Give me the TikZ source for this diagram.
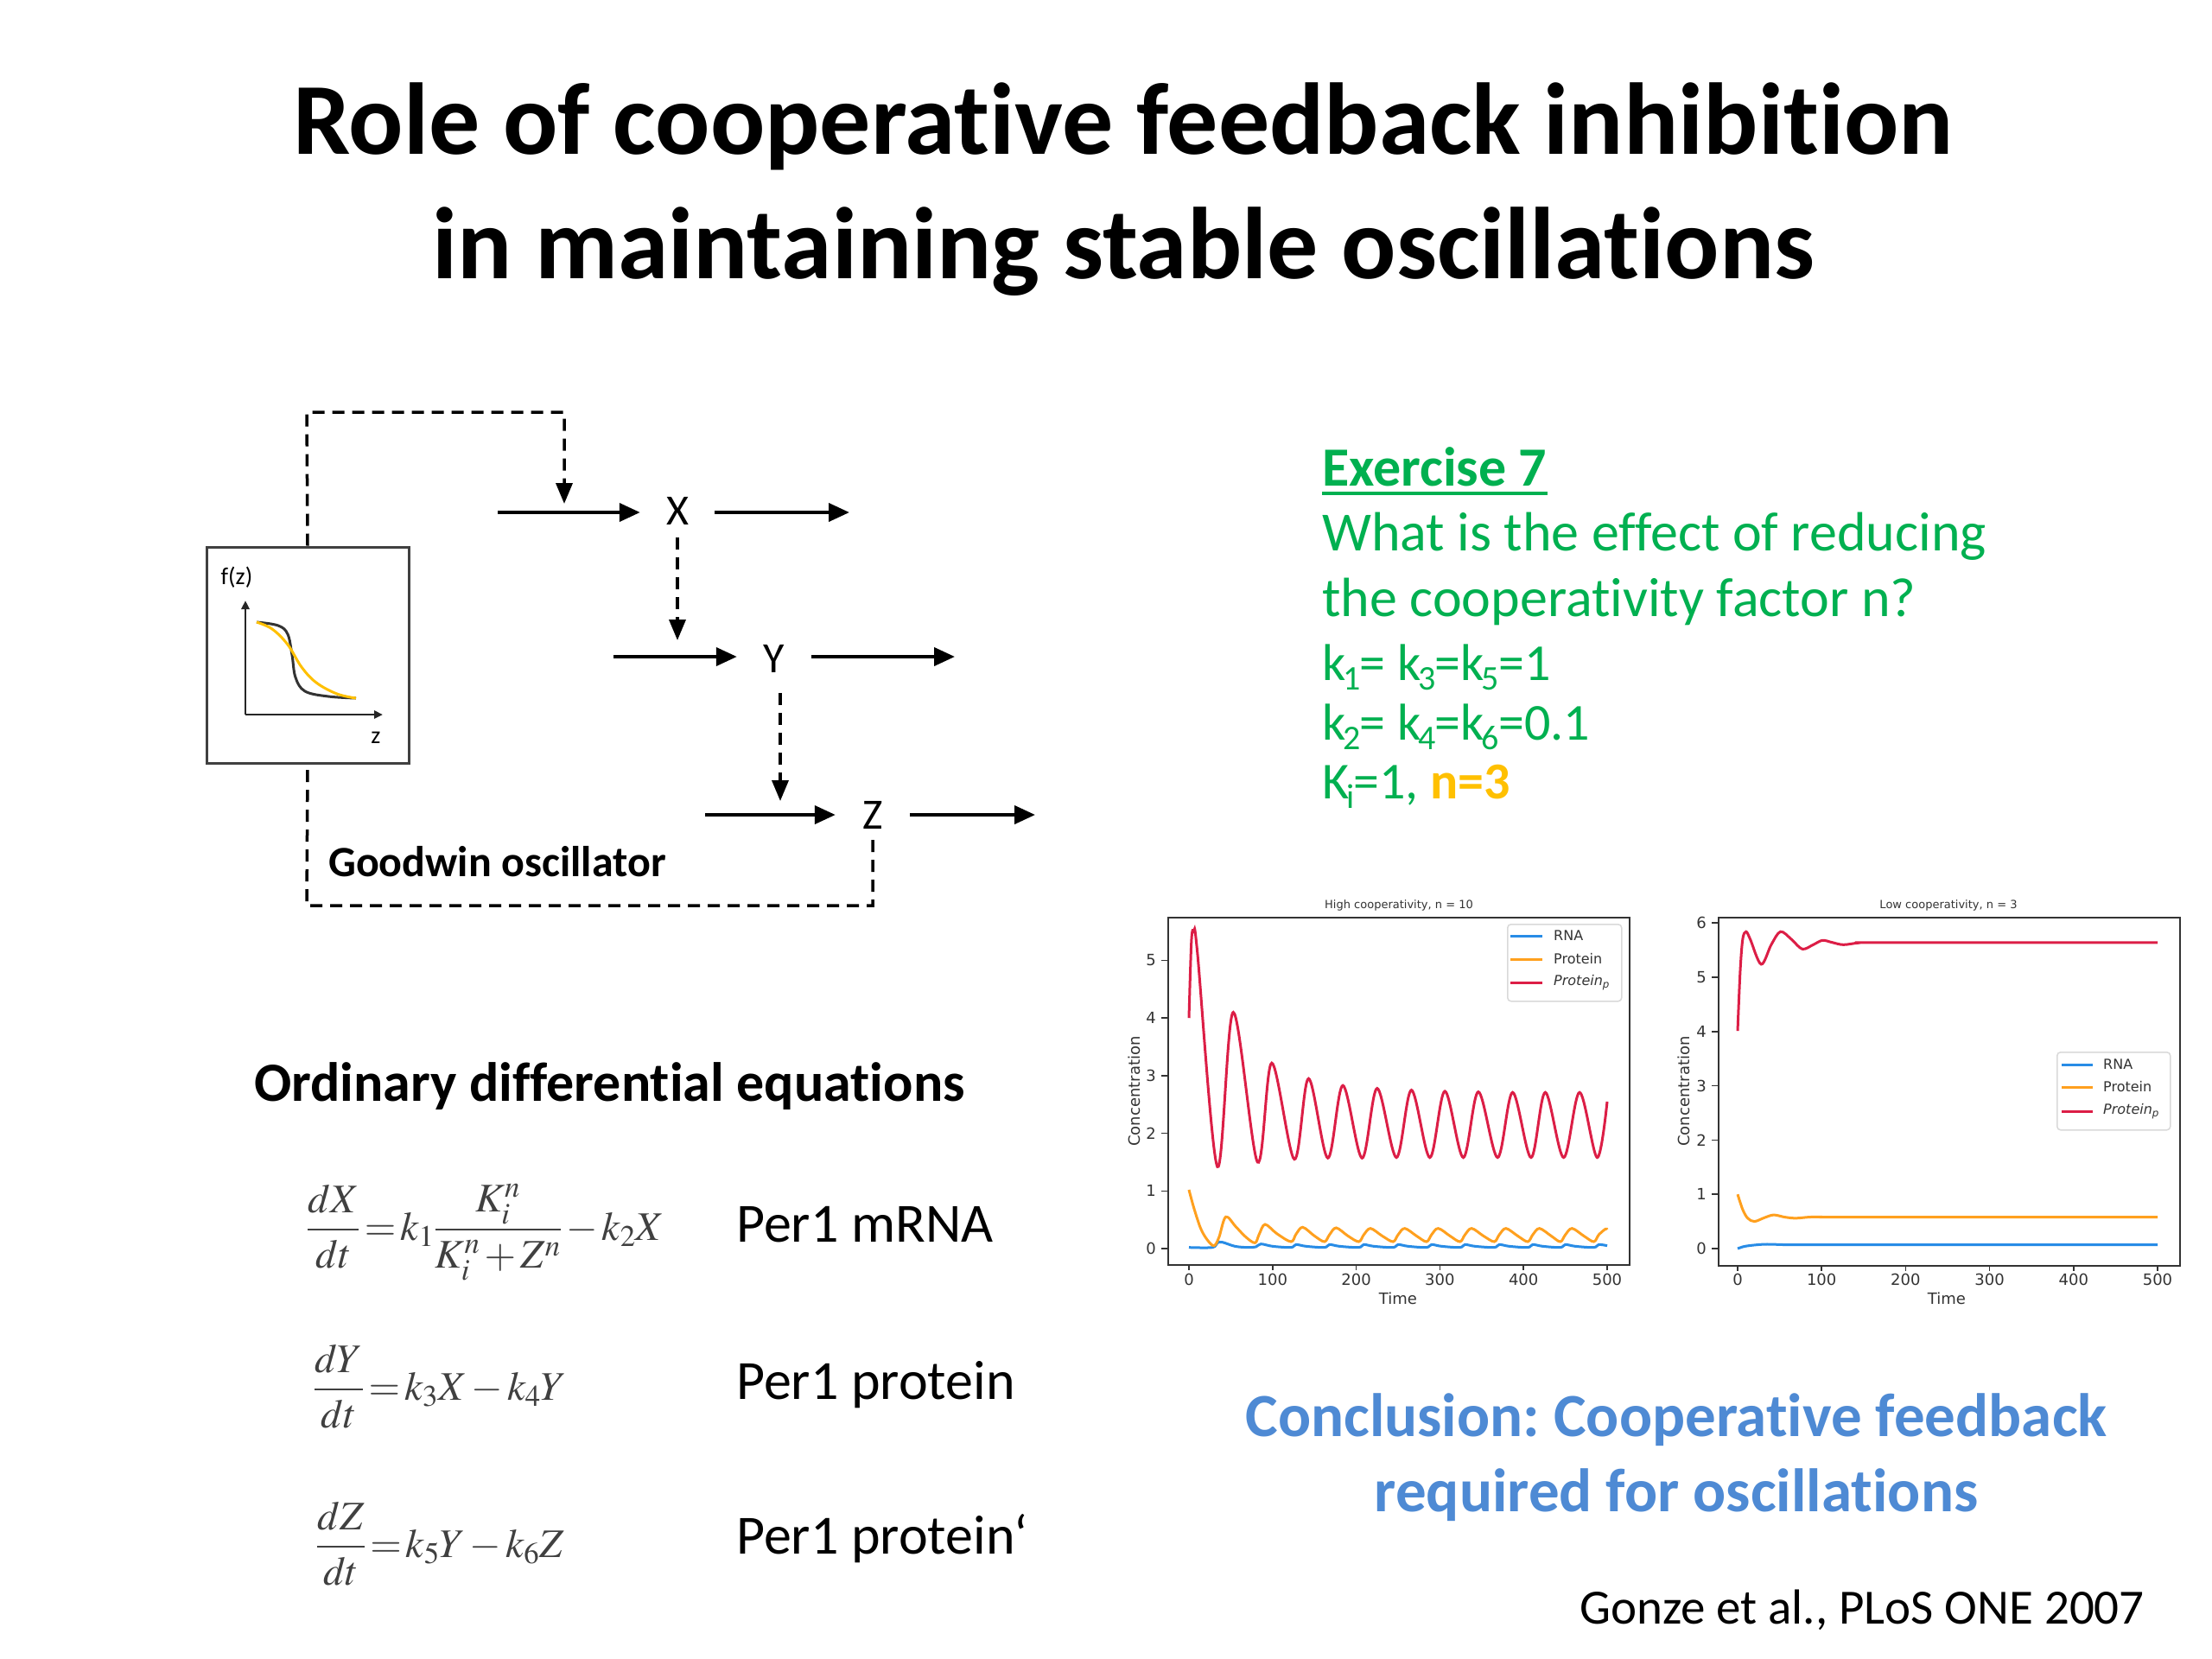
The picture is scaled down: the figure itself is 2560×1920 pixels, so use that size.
\documentclass[tikz,border=0pt]{standalone}
\usepackage{amsmath}
\usepackage{mathptmx}
\usepackage[no-math]{fontspec}
\setmainfont{Carlito}[RawFeature={-liga;-clig;-calt;-dlig}]
\newfontfamily\plotfont{DejaVu Sans}
\usetikzlibrary{arrows.meta}
\frenchspacing
\definecolor{exgreen}{RGB}{0,176,80}
\definecolor{exgold}{RGB}{255,192,0}
\definecolor{concblue}{RGB}{78,138,212}
\definecolor{rnablue}{RGB}{40,140,230}
\definecolor{protorange}{RGB}{255,160,30}
\definecolor{protred}{RGB}{220,30,70}
\newcommand\fsz[1]{\fontsize{#1}{#1}\selectfont}
\newcommand\sbs[1]{\kern-3pt\raisebox{-11pt}{\fsz{40}#1}\kern-1pt}
\begin{document}
\begin{tikzpicture}[x=1pt,y=-1pt,
  every node/.style={inner sep=0pt},
  flow/.style={line width=4pt,-{Triangle[length=24pt,width=21pt]}},
  dashflow/.style={line width=3.5pt,dash pattern=on 14pt off 9pt,-{Triangle[length=24pt,width=19pt]}},
  dashline/.style={line width=3.5pt,dash pattern=on 14pt off 9pt},
  species/.style={font=\fsz{50}, minimum width=86pt, minimum height=62pt},
  frame/.style={draw=black!80, line width=2pt},
  ticklbl/.style={font=\plotfont\fsz{18}, text=black!80},
  curve/.style={line width=3pt, smooth, tension=0.55},
  legendbox/.style={draw=black!15, fill=white, rounded corners=4pt, line width=1.5pt, anchor=north west},
  legtext/.style={font=\plotfont\fsz{16}, text=black!80, anchor=west}]
\useasboundingbox (0,0) rectangle (2560,1920);
\fill[white] (0,0) rectangle (2560,1920);

% Title
\node[font=\bfseries\fsz{118}, anchor=base] (title1) at (1300,178) {Role of cooperative feedback inhibition};
\node[font=\bfseries\fsz{118}, anchor=base] (title2) at (1300,322) {in maintaining stable oscillations};

% Goodwin diagram
\node[draw=black!75, line width=3pt, minimum width=234pt, minimum height=250pt] (fbox) at (356,758) {};
\node[font=\fsz{28}] (fzl) at (274,668) {f(z)};
\node[font=\fsz{28}] (zl) at (435,854) {z};
\coordinate (ax0) at (284,827);
\coordinate (axy) at (284,695);
\coordinate (axx) at (443,827);
\draw[line width=2.5pt, black!85, -{Triangle[length=10pt,width=9pt]}] (ax0) -- (axy);
\draw[line width=2.5pt, black!85, -{Triangle[length=10pt,width=9pt]}] (ax0) -- (axx);
\draw[line width=3pt, black!80] plot[smooth, tension=0.6] coordinates {(297,720) (322,724) (333,734) (338,758) (342,784) (353,800) (380,806) (412,808)};
\draw[line width=3pt, exgold] plot[smooth, tension=0.6] coordinates {(297,720) (315,728) (333,746) (349,772) (366,790) (390,803) (412,808)};

\node[species] (X) at (784,591) {X};
\node[species] (Y) at (896,762) {Y};
\node[species] (Z) at (1010,943) {Z};

\coordinate (xin) at (576,593);
\coordinate (xout) at (983,593);
\coordinate (yin) at (710,760);
\coordinate (yout) at (1105,760);
\coordinate (zin) at (816,943);
\coordinate (zout) at (1198,943);
\draw[flow] (xin) -- (xin -| X.west);
\draw[flow] (X.east |- xout) -- (xout);
\draw[flow] (yin) -- (yin -| Y.west);
\draw[flow] (Y.east |- yout) -- (yout);
\draw[flow] (zin) -- (zin -| Z.west);
\draw[flow] (Z.east |- zout) -- (zout);

\coordinate (fbtl) at (355,477);
\coordinate (fbtr) at (653,477);
\coordinate (xhit) at (653,583);
\coordinate (yhit) at (784,741);
\coordinate (zhit) at (903,927);
\coordinate (zbr) at (1010,1048);
\coordinate (zbl) at (355,1048);
\draw[dashflow] (fbox.north) -- (fbtl) -- (fbtr) -- (xhit);
\draw[dashflow] (784,622) -- (yhit);
\draw[dashflow] (903,802) -- (zhit);
\draw[dashline] (1010,972) -- (zbr) -- (zbl) -- (fbox.south);
\node[font=\bfseries\fsz{50}, anchor=base west] (goodwin) at (380,1014) {Goodwin oscillator};

% ODEs
\node[font=\bfseries\fsz{64}, anchor=base west] (odehead) at (294,1274) {Ordinary differential equations};
\begingroup
\thickmuskip=2mu \medmuskip=2mu
\node[font=\fsz{47}, text=black!75, anchor=base west] (eq1) at (355,1435) {$\dfrac{dX}{dt}=k_1\dfrac{K_i^n}{K_i^n+Z^n}-k_2X$};
\node[font=\fsz{47}, text=black!75, anchor=base west] (eq2) at (363,1620) {$\dfrac{dY}{dt}=k_3X-k_4Y$};
\node[font=\fsz{47}, text=black!75, anchor=base west] (eq3) at (366,1802) {$\dfrac{dZ}{dt}=k_5Y-k_6Z$};
\endgroup
\node[font=\fsz{64}, anchor=base west] (per1) at (852,1437) {Per1 mRNA};
\node[font=\fsz{64}, anchor=base west] (per2) at (852,1619) {Per1 protein};
\node[font=\fsz{64}, anchor=base west] (per3) at (852,1798) {Per1 protein‘};

% Exercise
\node[font=\bfseries\fsz{64}, text=exgreen, anchor=base west] (ex) at (1530,562) {Exercise 7};
\draw[exgreen, line width=4pt] ([yshift=-9pt]ex.base west) -- ([yshift=-9pt]ex.base east);
\node[font=\fsz{64}, text=exgreen, anchor=base west] (q1) at (1530,637) {What is the effect of reducing};
\node[font=\fsz{64}, text=exgreen, anchor=base west] (q2) at (1530,713) {the cooperativity factor n?};
\node[font=\fsz{60}, text=exgreen, anchor=base west] (k1) at (1530,787) {k\sbs{1}= k\sbs{3}=k\sbs{5}=1};
\node[font=\fsz{60}, text=exgreen, anchor=base west] (k2) at (1530,856) {k\sbs{2}= k\sbs{4}=k\sbs{6}=0.1};
\node[font=\fsz{60}, text=exgreen, anchor=base west] (k3) at (1530,924) {K\sbs{i}=1, {\bfseries\color{exgold}n=3}};

% Left plot
\node[frame, minimum width=534pt, minimum height=402pt, anchor=north west] (lax) at (1351,1061) {};
\node[font=\plotfont\fsz{13}, text=black!80] (ltitle) at (1619,1048) {High cooperativity, n = 10};
\foreach \t/\lab in {0/0,100/100,200/200,300/300,400/400,500/500}{
  \draw[black!80, line width=1.5pt] ({1376+0.968*\t},1463) -- ({1376+0.968*\t},1470);
  \node[ticklbl] at ({1376+0.968*\t},1481) {\lab};
}
\foreach \v in {0,...,5}{
  \draw[black!80, line width=1.5pt] (1351,{1445-66.7*\v}) -- (1344,{1445-66.7*\v});
  \node[ticklbl, anchor=east] at (1338,{1445-66.7*\v}) {\v};
}
\node[ticklbl] (ltime) at (1618,1503) {Time};
\node[ticklbl, rotate=90] (lconc) at (1313,1263) {Concentration};
\begin{scope}[xshift=1376pt, yshift=-1445pt, x={(0.968pt,0pt)}, y={(0pt,66.7pt)}]
\draw[curve, rnablue] plot coordinates {(0,0.02) (28,0.02) (34,0.1) (40,0.11) (55,0.04) (70,0.02) (80,0.03) (86,0.08) (100,0.04) (122,0.02) (128,0.07) (140,0.04) (162,0.02) (168,0.07) (180,0.04) (203,0.02) (209,0.07) (221,0.04) (244,0.02) (250,0.07) (262,0.04) (284,0.02) (290,0.07) (302,0.04) (324,0.02) (330,0.07) (342,0.04) (365,0.02) (371,0.07) (383,0.04) (405,0.02) (411,0.07) (423,0.04) (444,0.02) (450,0.07) (462,0.04) (484,0.02) (490,0.07) (500,0.05)};
\draw[curve, protorange] plot coordinates {(0,1.02) (6,0.7) (14,0.35) (22,0.15) (30,0.05) (36,0.2) (44,0.55) (56,0.38) (68,0.2) (79,0.1) (84,0.25) (91,0.42) (105,0.26) (122,0.12) (128,0.25) (136,0.37) (150,0.22) (162,0.12) (168,0.24) (176,0.36) (190,0.22) (203,0.12) (209,0.24) (217,0.35) (231,0.22) (244,0.12) (250,0.24) (258,0.35) (272,0.22) (284,0.12) (290,0.24) (298,0.35) (312,0.22) (324,0.12) (330,0.24) (338,0.35) (352,0.22) (365,0.12) (371,0.24) (379,0.35) (393,0.22) (405,0.12) (411,0.24) (419,0.35) (433,0.22) (444,0.12) (450,0.24) (458,0.35) (472,0.22) (484,0.12) (490,0.24) (498,0.34) (500,0.33)};
\draw[curve, protred] plot coordinates {(0,4.0) (3,5.35) (6,5.5) (10,5.15) (34,1.42) (53,4.1) (82,1.5) (99,3.22) (126,1.55) (143,2.95) (166,1.57) (184,2.83) (207,1.57) (225,2.78) (248,1.58) (266,2.75) (288,1.58) (306,2.73) (328,1.58) (346,2.72) (369,1.58) (387,2.71) (409,1.58) (426,2.71) (448,1.58) (467,2.71) (488,1.58) (500,2.55)};
\end{scope}
\node[legendbox, minimum width=132pt, minimum height=89pt] (lleg) at (1744,1069) {};
\draw[rnablue, line width=3pt] (1748,1083) -- (1785,1083);
\draw[protorange, line width=3pt] (1748,1110) -- (1785,1110);
\draw[protred, line width=3pt] (1748,1137) -- (1785,1137);
\node[legtext] (lrna) at (1798,1083) {RNA};
\node[legtext] (lprot) at (1798,1110) {Protein};
\node[legtext] (lprotp) at (1798,1137) {\itshape Protein\textsubscript{p}};

% Right plot
\node[frame, minimum width=534pt, minimum height=403pt, anchor=north west] (rax) at (1988,1061) {};
\node[font=\plotfont\fsz{13}, text=black!80] (rtitle) at (2255,1048) {Low cooperativity, n = 3};
\foreach \t/\lab in {0/0,100/100,200/200,300/300,400/400,500/500}{
  \draw[black!80, line width=1.5pt] ({2011+0.972*\t},1464) -- ({2011+0.972*\t},1471);
  \node[ticklbl] at ({2011+0.972*\t},1481) {\lab};
}
\foreach \v in {0,...,6}{
  \draw[black!80, line width=1.5pt] (1988,{1445-62.8*\v}) -- (1981,{1445-62.8*\v});
  \node[ticklbl, anchor=east] at (1975,{1445-62.8*\v}) {\v};
}
\node[ticklbl] (rtime) at (2253,1503) {Time};
\node[ticklbl, rotate=90] (rconc) at (1949,1263) {Concentration};
\begin{scope}[xshift=2011pt, yshift=-1445pt, x={(0.972pt,0pt)}, y={(0pt,62.8pt)}]
\draw[curve, rnablue] plot coordinates {(0,0.0) (8,0.04) (20,0.065) (35,0.08) (60,0.07) (100,0.07) (500,0.07)};
\draw[curve, protorange] plot coordinates {(0,1.0) (6,0.72) (12,0.56) (20,0.5) (32,0.57) (43,0.62) (56,0.58) (69,0.56) (85,0.58) (100,0.585) (130,0.58) (500,0.58)};
\draw[curve, protred] plot coordinates {(0,4.01) (3,5.1) (6,5.7) (10,5.84) (15,5.7) (28,5.24) (40,5.6) (51,5.84) (64,5.7) (77,5.52) (90,5.6) (101,5.68) (113,5.64) (126,5.6) (145,5.635) (170,5.64) (500,5.64)};
\end{scope}
\node[legendbox, minimum width=131pt, minimum height=90pt] (rleg) at (2380,1217) {};
\draw[rnablue, line width=3pt] (2386,1232) -- (2422,1232);
\draw[protorange, line width=3pt] (2386,1258) -- (2422,1258);
\draw[protred, line width=3pt] (2386,1286) -- (2422,1286);
\node[legtext] (rrna) at (2434,1232) {RNA};
\node[legtext] (rprot) at (2434,1258) {Protein};
\node[legtext] (rprotp) at (2434,1286) {\itshape Protein\textsubscript{p}};

% Conclusion
\node[font=\bfseries\fsz{71}, text=concblue, anchor=base] (conc1) at (1940,1662) {Conclusion: Cooperative feedback};
\node[font=\bfseries\fsz{71}, text=concblue, anchor=base] (conc2) at (1940,1749) {required for oscillations};
\node[font=\fsz{57}, anchor=base east] (ref) at (2482,1879) {Gonze et al., PLoS ONE 2007};
\end{tikzpicture}
\end{document}
